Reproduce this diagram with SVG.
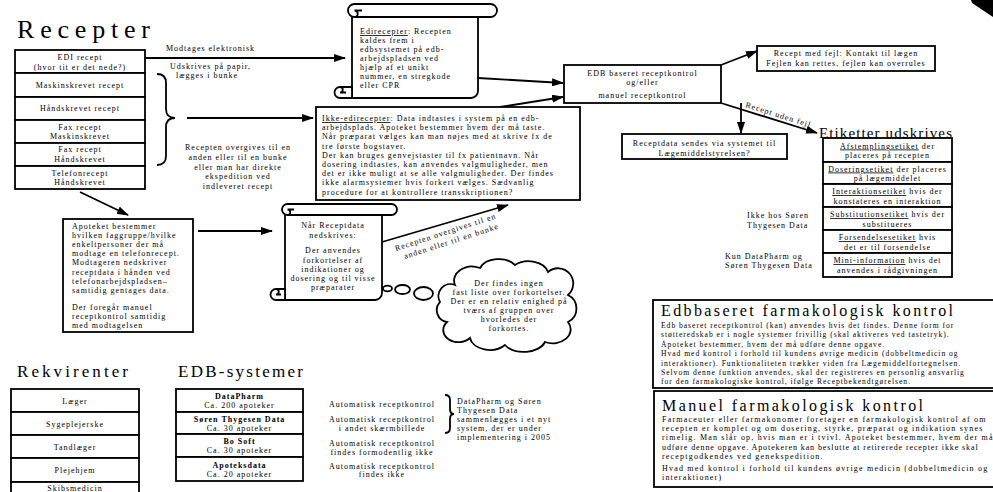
<svg xmlns="http://www.w3.org/2000/svg" width="993" height="492" viewBox="0 0 993 492">
<defs>
<style>
text{font-family:"Liberation Serif","Times New Roman",serif;fill:#000}
.b{font-size:8px;letter-spacing:1px}
.s{font-size:7.6px;letter-spacing:0.97px}
.m{font-size:8px;letter-spacing:1.2px}
.c{text-anchor:middle}
.u{text-decoration:underline}
.bd{font-weight:bold}
.box{fill:#fff;stroke:#000;stroke-width:1.8}
.ln{fill:none;stroke:#000;stroke-width:1.8}
.arr{fill:none;stroke:#000;stroke-width:1.8;marker-end:url(#ah)}
.wf{fill:#fff;stroke:#000;stroke-width:1.8}
</style>
<marker id="ah" markerUnits="userSpaceOnUse" markerWidth="12" markerHeight="8" refX="11" refY="4" orient="auto">
<path d="M0,0 L12,4 L0,8 Z" fill="#000"/>
</marker>
</defs>
<rect width="993" height="492" fill="#fff"/>

<polygon points="971,0 993,0 993,17 972,3" fill="#000"/>

<g id="title-recepter"><text x="17" y="38" font-size="26" textLength="133" lengthAdjust="spacing">Recepter</text></g>

<g id="recepter-list">
<rect class="box" x="15" y="50" width="130" height="23"/>
<rect class="box" x="15" y="73" width="130" height="24"/>
<rect class="box" x="15" y="97" width="130" height="23"/>
<rect class="box" x="15" y="120" width="130" height="23"/>
<rect class="box" x="15" y="143" width="130" height="23"/>
<rect class="box" x="15" y="166" width="130" height="23"/>
<text class="b c" x="80" y="59.5">EDI recept</text>
<text class="b c" x="80" y="70">(hvor tit er det nede?)</text>
<text class="b c" x="80" y="88">Maskinskrevet recept</text>
<text class="b c" x="80" y="111">Håndskrevet recept</text>
<text class="b c" x="80" y="129.5">Fax recept</text>
<text class="b c" x="80" y="139">Maskinskrevet</text>
<text class="b c" x="80" y="152">Fax recept</text>
<text class="b c" x="80" y="162">Håndskrevet</text>
<text class="b c" x="80" y="175.5">Telefonrecept</text>
<text class="b c" x="80" y="185">Håndskrevet</text>
</g>

<g id="connectors">
<path class="ln" d="M157,74 Q166,74 166,83 V109 Q166,118 175,118 Q166,118 166,127 V156 Q166,165 157,165"/>
<line class="arr" x1="145" y1="58" x2="345" y2="58"/>
<line class="arr" x1="187" y1="118" x2="313" y2="118"/>
<line class="arr" x1="478" y1="78" x2="563" y2="83"/>
<line class="arr" x1="500" y1="107" x2="563" y2="97"/>
<line class="arr" x1="721" y1="65" x2="757" y2="51"/>
<line class="arr" x1="741" y1="103" x2="741" y2="133"/>
<line class="arr" x1="721" y1="103" x2="817" y2="133"/>
<line class="arr" x1="80" y1="192" x2="128" y2="215"/>
<line class="arr" x1="198" y1="231" x2="272" y2="231"/>
<line class="arr" x1="382" y1="242" x2="508" y2="205"/>
<path class="ln" d="M445,395 Q450,395 450,400 V409 Q450,414 454,414 Q450,414 450,419 V428 Q450,433 445,433"/>
<text class="b" x="166" y="51">Modtages elektronisk</text>
<text class="b" x="170" y="69">Udskrives på papir,</text>
<text class="b" x="176" y="78">lægges i bunke</text>
<text class="b c" x="238" y="150">Recepten overgives til en</text>
<text class="b c" x="238" y="159.5">anden eller til en bunke</text>
<text class="b c" x="238" y="169.5">eller man har direkte</text>
<text class="b c" x="238" y="179">ekspedition ved</text>
<text class="b c" x="238" y="189">indleveret recept</text>
<text class="b" transform="translate(745,107) rotate(17.5)">Recept uden fejl</text>
<text class="b" transform="translate(396,251) rotate(-18)">Recepten overgives til en</text>
<text class="b" transform="translate(405,259) rotate(-18)">anden eller til en bunke</text>
</g>

<g id="edirecepter">
<path class="wf" d="M352,12 H478 V91 A7,7 0 0 1 471,98 H352 Z"/>
<path class="wf" d="M354.5,4 H490.5 A6.5,6.5 0 0 1 490.5,17 H354.5 A6.5,6.5 0 0 1 354.5,4 Z"/>
<path class="ln" d="M354.5,10.5 A3.25,3.25 0 0 1 354.5,17 M354.5,10.5 H362"/>
<path class="wf" d="M352,87 H340 A5.5,5.5 0 0 0 340,98 H352 Z"/>
<path class="ln" d="M340,87 A2.75,2.75 0 0 1 340,92.5 H346"/>
<text class="b" x="360" y="34"><tspan class="u">Edirecepter</tspan>: Recepten</text>
<text class="b" x="360" y="43">kaldes frem i</text>
<text class="b" x="360" y="52">edbsystemet på edb-</text>
<text class="b" x="360" y="61">arbejdspladsen ved</text>
<text class="b" x="360" y="70">hjælp af et unikt</text>
<text class="b" x="360" y="79">nummer, en stregkode</text>
<text class="b" x="360" y="88">eller CPR</text>
</g>

<g id="ikke-edirecepter">
<rect class="box" x="316" y="107" width="264" height="93"/>
<text class="b" x="322" y="121"><tspan class="u">Ikke-edirecepter</tspan>: Data indtastes i system på en edb-</text>
<text class="b" x="322" y="130.2">arbejdsplads. Apoteket bestemmer hvem der må taste.</text>
<text class="b" x="322" y="139.4">Når præparat vælges kan man nøjes med at skrive fx de</text>
<text class="b" x="322" y="148.6">tre første bogstaver.</text>
<text class="b" x="322" y="157.8">Der kan bruges genvejstaster til fx patientnavn. Når</text>
<text class="b" x="322" y="167">dosering indtastes, kan anvendes valgmuligheder, men</text>
<text class="b" x="322" y="176.2">det er ikke muligt at se alle valgmuligheder. Der findes</text>
<text class="b" x="322" y="185.4">ikke alarmsystemer hvis forkert vælges. Sædvanlig</text>
<text class="b" x="322" y="194.6">procedure for at kontrollere transskriptionen?</text>
</g>

<g id="edb-kontrol">
<rect class="box" x="564" y="65" width="157" height="38"/>
<text class="b c" x="642.5" y="76">EDB baseret receptkontrol</text>
<text class="b c" x="642.5" y="85">og/eller</text>
<text class="b c" x="642.5" y="98">manuel receptkontrol</text>
</g>

<g id="recept-med-fejl">
<rect class="box" x="757" y="46" width="178" height="25"/>
<text class="b c" x="846" y="56">Recept med fejl: Kontakt til lægen</text>
<text class="b c" x="846" y="66">Fejlen kan rettes, fejlen kan overrules</text>
</g>

<g id="receptdata">
<rect class="box" x="622" y="134" width="165" height="25"/>
<text class="b c" x="704.5" y="146">Receptdata sendes via systemet til</text>
<text class="b c" x="704.5" y="155.5">Lægemiddelstyrelsen?</text>
</g>

<g id="etiketter">
<text x="819" y="137.5" font-size="15" textLength="133" lengthAdjust="spacing">Etiketter udskrives</text>
<rect class="box" x="823" y="138" width="129" height="24"/>
<rect class="box" x="823" y="162" width="129" height="22"/>
<rect class="box" x="823" y="184" width="129" height="23"/>
<rect class="box" x="823" y="207" width="129" height="23"/>
<rect class="box" x="823" y="230" width="129" height="23"/>
<rect class="box" x="823" y="253" width="129" height="24"/>
<text class="b c" x="887.5" y="148.5"><tspan class="u">Afstemplingsetiket</tspan> der</text>
<text class="b c" x="887.5" y="158">placeres på recepten</text>
<text class="b c" x="887.5" y="171.5"><tspan class="u">Doseringsetiket</tspan> der placeres</text>
<text class="b c" x="887.5" y="181">på lægemiddelet</text>
<text class="b c" x="887.5" y="194"><tspan class="u">Interaktionsetiket</tspan> hvis der</text>
<text class="b c" x="887.5" y="203.5">konstateres en interaktion</text>
<text class="b c" x="887.5" y="217"><tspan class="u">Substitutionsetiket</tspan> hvis der</text>
<text class="b c" x="887.5" y="226.5">substitueres</text>
<text class="b c" x="887.5" y="240"><tspan class="u">Forsendelsesetiket</tspan> hvis</text>
<text class="b c" x="887.5" y="249.5">det er til forsendelse</text>
<text class="b c" x="887.5" y="263"><tspan class="u">Mini-information</tspan> hvis det</text>
<text class="b c" x="887.5" y="272.5">anvendes i rådgivningen</text>
<text class="b" x="747" y="218">Ikke hos Søren</text>
<text class="b" x="747" y="227.5">Thygesen Data</text>
<text class="b" x="725" y="258.5">Kun DataPharm og</text>
<text class="b" x="725" y="267.5">Søren Thygesen Data</text>
</g>

<g id="apoteket">
<rect class="box" x="63" y="219" width="130" height="113"/>
<text class="b" x="72" y="229">Apoteket bestemmer</text>
<text class="b" x="72" y="238.1">hvilken faggruppe/hvilke</text>
<text class="b" x="72" y="247.2">enkeltpersoner der må</text>
<text class="b" x="72" y="256.3">modtage en telefonrecept.</text>
<text class="b" x="72" y="265.4">Modtageren nedskriver</text>
<text class="b" x="72" y="274.5">receptdata i hånden ved</text>
<text class="b" x="72" y="283.6">telefonarbejdspladsen–</text>
<text class="b" x="72" y="292.7">samtidig gentages data.</text>
<text class="b" x="72" y="309.5">Der foregår manuel</text>
<text class="b" x="72" y="318.5">receptkontrol samtidig</text>
<text class="b" x="72" y="327.5">med modtagelsen</text>
</g>

<g id="naar-receptdata">
<path class="wf" d="M285,210 H382 V293 A7,7 0 0 1 375,300 H285 Z"/>
<path class="wf" d="M287.5,204 H391.5 A5.5,5.5 0 0 1 391.5,215 H287.5 A5.5,5.5 0 0 1 287.5,204 Z"/>
<path class="ln" d="M287.5,209.5 A2.75,2.75 0 0 1 287.5,215 M287.5,209.5 H294"/>
<path class="wf" d="M285,289 H276 A5.5,5.5 0 0 0 276,300 H285 Z"/>
<path class="ln" d="M276,289 A2.75,2.75 0 0 1 276,294.5 H281"/>
<text class="b c" x="333" y="228">Når Receptdata</text>
<text class="b c" x="333" y="238">nedskrives:</text>
<text class="b c" x="333" y="253">Der anvendes</text>
<text class="b c" x="333" y="262.5">forkortelser af</text>
<text class="b c" x="333" y="271.5">indikationer og</text>
<text class="b c" x="333" y="280.5">dosering og til visse</text>
<text class="b c" x="333" y="289.5">præparater</text>
</g>

<g id="thought-cloud">
<ellipse class="wf" cx="387.5" cy="288.5" rx="4.5" ry="2.8" stroke-width="1.4"/>
<ellipse class="wf" cx="402.5" cy="289.5" rx="7.5" ry="4.5" stroke-width="1.4"/>
<ellipse class="wf" cx="423.5" cy="293.5" rx="9.5" ry="6.5" stroke-width="1.4"/>
<path class="wf" stroke-width="1.4" d="M455,285 A18,14 0 0 1 480,268 A20,14 0 0 1 515,265 A20,14 0 0 1 548,272 A15,15 0 0 1 568,295 A15,15 0 0 1 568,322 A18,14 0 0 1 545,342 A22,14 0 0 1 505,345 A20,14 0 0 1 470,338 A15,12 0 0 1 447,322 A12,12 0 0 1 440,302 A12,12 0 0 1 455,285 Z"/>
<text class="b c" x="509" y="286">Der findes ingen</text>
<text class="b c" x="509" y="295">fast liste over forkortelser.</text>
<text class="b c" x="509" y="304">Der er en relativ  enighed på</text>
<text class="b c" x="509" y="313">tværs af gruppen over</text>
<text class="b c" x="509" y="322">hvorledes der</text>
<text class="b c" x="509" y="331">forkortes.</text>
</g>

<g id="rekvirenter">
<text x="17" y="377" font-size="17" textLength="111" lengthAdjust="spacing">Rekvirenter</text>
<rect class="box" x="11" y="389" width="128" height="23"/>
<rect class="box" x="11" y="412" width="128" height="23"/>
<rect class="box" x="11" y="435" width="128" height="23"/>
<rect class="box" x="11" y="458" width="128" height="24"/>
<rect class="box" x="11" y="482" width="128" height="24"/>
<text class="b c" x="75" y="404">Læger</text>
<text class="b c" x="75" y="427">Sygeplejerske</text>
<text class="b c" x="75" y="450">Tandlæger</text>
<text class="b c" x="75" y="473">Plejehjem</text>
<text class="b c" x="75" y="491">Skibsmedicin</text>
</g>

<g id="edb-systemer">
<text x="178" y="377" font-size="17" textLength="125" lengthAdjust="spacing">EDB-systemer</text>
<rect class="box" x="176" y="389" width="127" height="23"/>
<rect class="box" x="176" y="412" width="127" height="22"/>
<rect class="box" x="176" y="434" width="127" height="23"/>
<rect class="box" x="176" y="457" width="127" height="24"/>
<text class="b c bd" x="239.5" y="399">DataPharm</text>
<text class="b c" x="239.5" y="408">Ca. 200 apoteker</text>
<text class="b c bd" x="239.5" y="422">Søren Thygesen Data</text>
<text class="b c" x="239.5" y="431">Ca. 30 apoteker</text>
<text class="b c bd" x="239.5" y="444">Bo Soft</text>
<text class="b c" x="239.5" y="453">Ca. 30 apoteker</text>
<text class="b c bd" x="239.5" y="467.5">Apoteksdata</text>
<text class="b c" x="239.5" y="476.5">Ca. 20 apoteker</text>
<text class="b c" x="382" y="406.5">Automatisk receptkontrol</text>
<text class="b c" x="382" y="421.5">Automatisk receptkontrol</text>
<text class="b c" x="382" y="430.5">i andet skærmbillede</text>
<text class="b c" x="382" y="445.5">Automatisk receptkontrol</text>
<text class="b c" x="382" y="454.5">findes formodentlig ikke</text>
<text class="b c" x="382" y="468.5">Automatisk receptkontrol</text>
<text class="b c" x="382" y="477">findes ikke</text>
<text class="b" x="457" y="403.5">DataPharm og Søren</text>
<text class="b" x="457" y="412.5">Thygesen Data</text>
<text class="b" x="457" y="421.5">sammenlægges i et nyt</text>
<text class="b" x="457" y="430.5">system, der er under</text>
<text class="b" x="457" y="439.5">implementering i 2005</text>
</g>

<g id="edb-farmakologisk">
<rect class="box" x="653" y="300" width="360" height="88"/>
<text x="661" y="316" font-size="16" textLength="292" lengthAdjust="spacing">Edbbaseret farmakologisk kontrol</text>
<text class="s" x="661" y="328">Edb baseret receptkontrol (kan) anvendes hvis det findes. Denne form for</text>
<text class="s" x="661" y="337.4">støtteredskab er i nogle systemer frivillig (skal aktiveres ved tastetryk).</text>
<text class="s" x="661" y="346.8">Apoteket bestemmer, hvem der må udføre denne opgave.</text>
<text class="s" x="661" y="356.2">Hvad med kontrol i forhold til kundens øvrige medicin (dobbeltmedicin og</text>
<text class="s" x="661" y="365.6">interaktioner). Funktionaliteten trækker  viden  fra Lægemiddelfortegnelsen.</text>
<text class="s" x="661" y="375">Selvom denne funktion anvendes, skal der registreres en personlig ansvarlig</text>
<text class="s" x="661" y="384.4">for den farmakologiske kontrol, ifølge Receptbekendtgørelsen.</text>
</g>

<g id="manuel-farmakologisk">
<rect class="box" x="654" y="391" width="360" height="96"/>
<text x="662" y="411" font-size="16" textLength="261" lengthAdjust="spacing">Manuel farmakologisk kontrol</text>
<text class="m" x="662" y="421.5">Farmaceuter eller farmakonomer foretager en farmakologisk kontrol af om</text>
<text class="m" x="662" y="431">recepten er komplet og om dosering, styrke, præparat og indikation synes</text>
<text class="m" x="662" y="440">rimelig. Man slår op, hvis man er i tvivl. Apoteket bestemmer, hvem der må</text>
<text class="m" x="662" y="449.5" style="letter-spacing:0.9px">udføre denne opgave. Apotekeren kan beslutte at retirerede recepter ikke skal</text>
<text class="m" x="662" y="458.5">receptgodkendes ved genekspedition.</text>
<text class="m" x="662" y="471">Hvad med kontrol i forhold til kundens øvrige medicin (dobbeltmedicin og</text>
<text class="m" x="662" y="480">interaktioner)</text>
</g>
</svg>
